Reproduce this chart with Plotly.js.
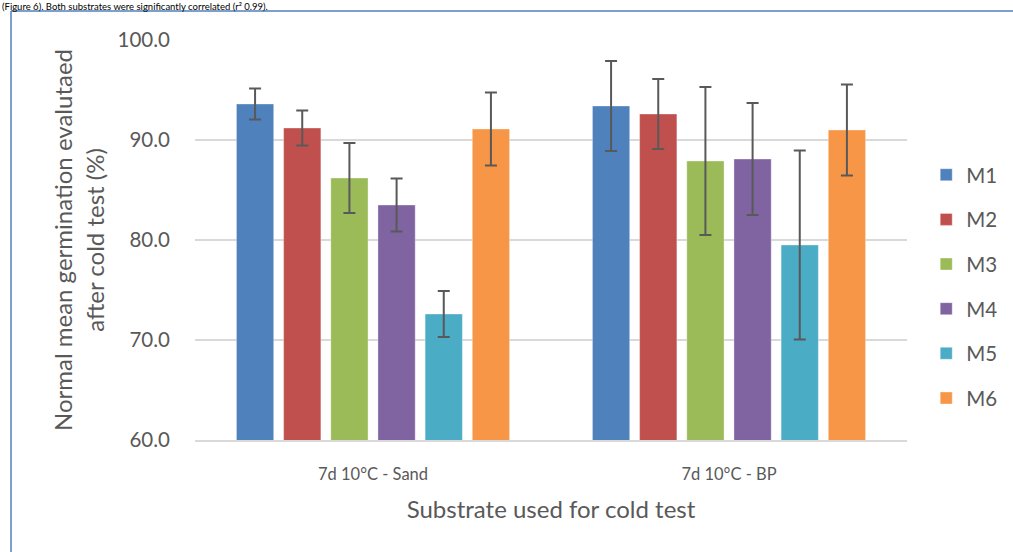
<!DOCTYPE html>
<html>
<head>
<meta charset="utf-8">
<script src="https://cdn.plot.ly/plotly-3.0.1.min.js"></script>
<style>
html,body{margin:0;padding:0;background:#fff;}
#chart{width:1013px;height:552px;}
</style>
</head>
<body>
<div id="chart"></div>
<script>
const categories = ["7d 10°C - Sand", "7d 10°C - BP"];
const seriesNames = ["M1", "M2", "M3", "M4", "M5", "M6"];
const seriesColors = ["#4f81bd", "#c0504d", "#9bbb59", "#8064a2", "#4bacc6", "#f79646"];
const M1 = [93.6, 93.4];
const M2 = [91.2, 92.6];
const M3 = [86.2, 87.9];
const M4 = [83.5, 88.1];
const M5 = [72.6, 79.5];
const M6 = [91.1, 91.0];
const M1err = [1.55, 4.5];
const M2err = [1.75, 3.5];
const M3err = [3.5, 7.4];
const M4err = [2.65, 5.6];
const M5err = [2.3, 9.45];
const M6err = [3.65, 4.55];
const yTicks = [60, 70, 80, 90, 100];

const values = [M1, M2, M3, M4, M5, M6];
const errors = [M1err, M2err, M3err, M4err, M5err, M6err];

const traces = seriesNames.map((name, i) => ({
  type: 'bar',
  name: name,
  x: categories,
  y: values[i],
  legendgroup: name,
  marker: {color: seriesColors[i], line: {color: 'rgba(255,255,255,0.35)', width: 1}},
  error_y: {type: 'data', array: errors[i], visible: true, color: '#595959', thickness: 2, width: 6}
}));

const fontFam = 'Lato, "Open Sans", sans-serif';

const layout = {
  width: 1013, height: 552,
  margin: {l: 195, r: 106, t: 40, b: 112, autoexpand: false},
  paper_bgcolor: '#ffffff',
  plot_bgcolor: '#ffffff',
  barmode: 'group',
  bargap: 0.205,
  bargroupgap: 0.21,
  font: {family: fontFam, color: '#595959'},
  xaxis: {
    type: 'category',
    showgrid: false,
    showline: true,
    linecolor: '#d9d9d9',
    linewidth: 1.5,
    ticks: '',
    ticklabelstandoff: 19,
    tickfont: {size: 16.5, color: '#595959'},
    title: {text: 'Substrate used for cold test', font: {size: 24, color: '#595959'}, standoff: 18},
    fixedrange: true
  },
  yaxis: {
    range: [60, 100],
    tickvals: yTicks,
    tickformat: '.1f',
    showgrid: true,
    gridcolor: '#d9d9d9',
    gridwidth: 1.5,
    zeroline: false,
    showline: false,
    ticks: '',
    ticklabelstandoff: 24,
    tickfont: {size: 20.5, color: '#595959'},
    title: {text: 'Normal mean germination evalutaed<br>after cold test (%)', font: {size: 24, color: '#595959'}, standoff: 6},
    fixedrange: true
  },
  legend: {
    x: 1.027, xanchor: 'left',
    y: 0.384, yanchor: 'middle',
    traceorder: 'grouped',
    tracegroupgap: 15,
    font: {size: 20.5, color: '#595959'},
    itemwidth: 30
  },
  showlegend: true,
  shapes: [
    {type: 'line', xref: 'paper', yref: 'paper', x0: -0.2584, x1: 1.2, y0: 1.0725, y1: 1.0725, line: {color: '#4f81bd', width: 1.5}},
    {type: 'line', xref: 'paper', yref: 'paper', x0: -0.2584, x1: -0.2584, y0: 1.0725, y1: -0.3, line: {color: '#4f81bd', width: 1.5}}
  ],
  annotations: [
    {xref: 'paper', yref: 'paper', x: -0.2725, y: 1.1, xanchor: 'left', yanchor: 'top', showarrow: false, borderpad: 0,
     text: '(Figure 6). Both substrates were significantly correlated (r² 0.99).', font: {size: 9.5, color: '#000000', family: fontFam}}
  ]
};

Plotly.newPlot('chart', traces, layout, {displayModeBar: false, staticPlot: true});
</script>
</body>
</html>
